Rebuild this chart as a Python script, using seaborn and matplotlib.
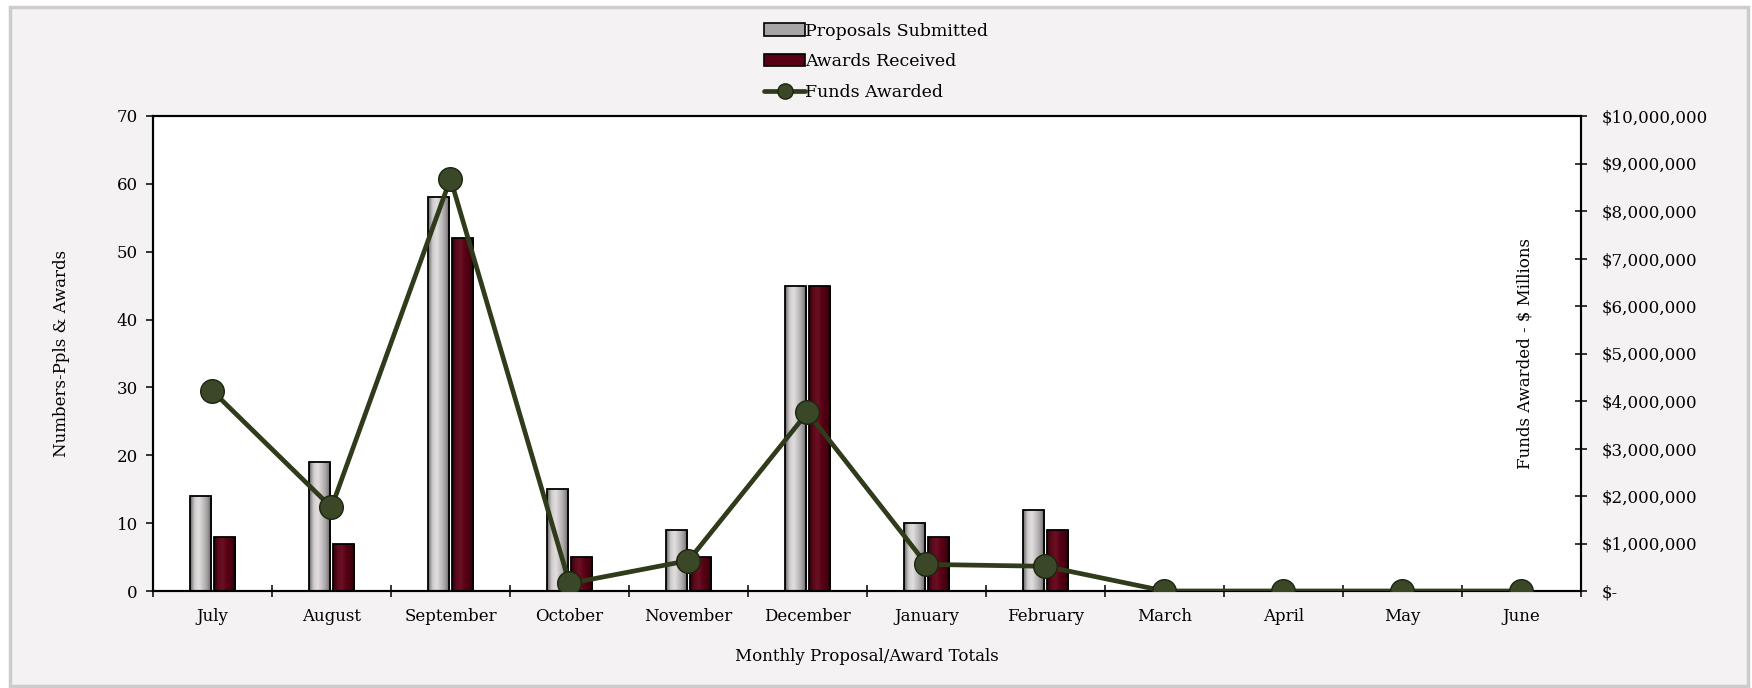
import numpy as np
import pandas as pd
import matplotlib
matplotlib.use("Agg")
import matplotlib.pyplot as plt
import seaborn as sns
from matplotlib.colors import LinearSegmentedColormap
from matplotlib.lines import Line2D
from matplotlib.patches import Patch, Rectangle
from matplotlib.ticker import FuncFormatter, MultipleLocator, FixedLocator

months = ["July", "August", "September", "October", "November", "December",
          "January", "February", "March", "April", "May", "June"]
proposals_submitted = [14, 19, 58, 15, 9, 45, 10, 12, 0, 0, 0, 0]
awards_received = [8, 7, 52, 5, 5, 45, 8, 9, 0, 0, 0, 0]
funds_awarded = [4210000, 1760000, 8680000, 160000, 640000, 3760000,
                 560000, 520000, 0, 0, 0, 0]

series_names = ["Proposals Submitted", "Awards Received", "Funds Awarded"]

sns.set_theme(style="white")
plt.rcParams["font.family"] = ["DejaVu Serif"]
plt.rcParams["text.color"] = "black"
plt.rcParams["axes.labelcolor"] = "black"
plt.rcParams["xtick.labelcolor"] = "black"
plt.rcParams["ytick.labelcolor"] = "black"

GREY = "#b4b0b1"
MAROON = "#5a0016"
OLIVE_LINE = "#2f3b1a"
OLIVE_DOT = "#3a4828"
FS = 12

W, H = 1752, 688
fig = plt.figure(figsize=(W / 100, H / 100), dpi=100, facecolor="white")

# framed light-grey chart panel
fig.patches.append(Rectangle((10 / W, 2 / H), 1738 / W, 679 / H,
                             transform=fig.transFigure, facecolor="#f4f2f3",
                             edgecolor="#cdcbcc", linewidth=2.5, zorder=-10))

ax = fig.add_axes([153 / W, 1 - 591 / H, 1428 / W, 475 / H])
ax.set_facecolor("white")

df = pd.DataFrame({
    "month": months * 2,
    "count": proposals_submitted + awards_received,
    "series": [series_names[0]] * len(months) + [series_names[1]] * len(months),
})
sns.barplot(data=df, x="month", y="count", hue="series", order=months,
            hue_order=series_names[:2], palette=[GREY, MAROON], width=0.4,
            gap=0.1, edgecolor="black", linewidth=1.3, legend=False, ax=ax,
            saturation=1)

# cylinder-style shading on each bar
grey_cmap = LinearSegmentedColormap.from_list(
    "g", ["#666364", "#cfcbcb", "#e2dfdf", "#c4c0c1", "#a19d9e", "#5c595a"])
maroon_cmap = LinearSegmentedColormap.from_list(
    "m", ["#30000a", "#5e0a1c", "#6a1024", "#5a0016", "#47000f", "#2a000a"])
grad = np.linspace(0, 1, 64).reshape(1, -1)
for container, cmap in zip(ax.containers, [grey_cmap, maroon_cmap]):
    for bar in container:
        h = bar.get_height()
        if h <= 0:
            continue
        x0 = bar.get_x()
        w = bar.get_width()
        im = ax.imshow(grad, extent=[x0, x0 + w, 0, h], aspect="auto",
                       cmap=cmap, zorder=bar.get_zorder() + 0.1,
                       interpolation="bicubic")
        im.set_clip_path(bar)
        bar.set_facecolor("none")
        bar.set_zorder(bar.get_zorder() + 0.2)

ax.set_xlim(-0.5, len(months) - 0.5)
ax.set_ylim(0, 70)
ax.yaxis.set_major_locator(MultipleLocator(10))
ax.set_xticks(range(len(months)))
ax.set_xticklabels(months)
ax.xaxis.set_minor_locator(FixedLocator(np.arange(-0.5, len(months), 1.0)))
ax.tick_params(axis="x", which="major", length=0, pad=12, labelsize=FS)
ax.tick_params(axis="x", which="minor", direction="inout", length=8,
               width=1.1, color="black", bottom=True)
ax.tick_params(axis="y", direction="out", length=5, width=1.1,
               color="black", left=True, labelsize=FS, pad=6)
for s in ax.spines.values():
    s.set_color("black")
    s.set_linewidth(1.5)
ax.set_xlabel("Monthly Proposal/Award Totals", fontsize=FS)
ax.set_ylabel("Numbers-Ppls & Awards", fontsize=FS)
ax.xaxis.set_label_coords(0.5, -0.12)
ax.yaxis.set_label_coords(-0.058, 0.5)

# secondary axis: funds awarded line
ax2 = ax.twinx()
sns.lineplot(x=np.arange(len(months)), y=funds_awarded, ax=ax2,
             color=OLIVE_LINE, linewidth=3.4, marker="o", markersize=17,
             markerfacecolor=OLIVE_DOT, markeredgecolor="#1c2410",
             markeredgewidth=1.0, zorder=5)
ax2.set_ylim(0, 10_000_000)
ax2.set_xlim(-0.5, len(months) - 0.5)
ax2.yaxis.set_major_locator(MultipleLocator(1_000_000))
ax2.yaxis.set_major_formatter(
    FuncFormatter(lambda v, _: "$-" if v == 0 else f"${v:,.0f}"))
ax2.tick_params(axis="y", direction="inout", length=9, width=1.1,
                color="black", right=True, labelsize=FS, pad=10)
for s in ax2.spines.values():
    s.set_color("black")
    s.set_linewidth(1.5)
ax2.set_ylabel("Funds Awarded - $ Millions", fontsize=FS, rotation=90)
ax2.yaxis.set_label_position("right")
ax2.yaxis.label.set_verticalalignment("top")
ax2.yaxis.set_label_coords(0.955, 0.5)

handles = [
    Patch(facecolor="#a9a5a6", edgecolor="black", linewidth=1.2),
    Patch(facecolor=MAROON, edgecolor="black", linewidth=1.2),
    Line2D([], [], color=OLIVE_LINE, linewidth=3.4, marker="o", markersize=11,
           markerfacecolor=OLIVE_DOT, markeredgecolor="#1c2410"),
]
fig.legend(handles, series_names, loc="upper center",
           bbox_to_anchor=(0.5, 0.99), frameon=False, fontsize=FS + 0.5,
           handlelength=2.4, handleheight=0.7, handletextpad=0.0,
           labelspacing=0.8)

fig.savefig("out.png", dpi=100, facecolor="white")
